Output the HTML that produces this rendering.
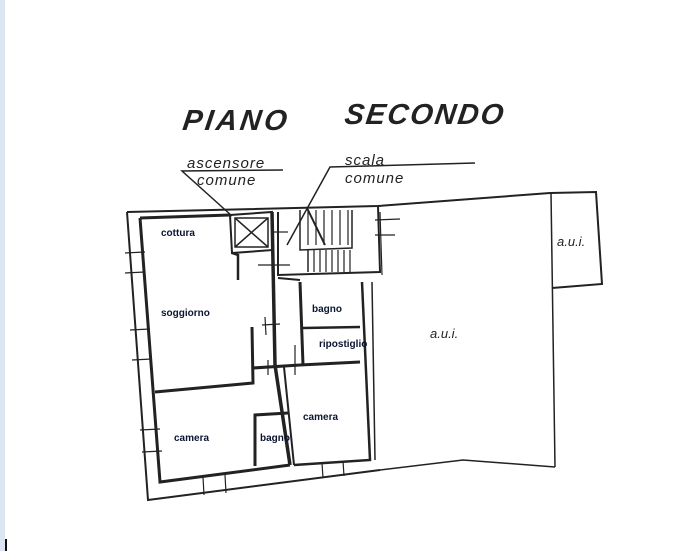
<!DOCTYPE html>
<html><head><meta charset="utf-8"><style>
html,body{margin:0;padding:0;background:#fff;width:676px;height:551px;overflow:hidden}
svg{display:block}
.h{font-family:"Liberation Sans",sans-serif;font-style:italic;fill:#222}
.l{font-family:"Liberation Sans",sans-serif;font-weight:bold;font-size:10px;fill:#0a1530}
</style></head><body>
<svg width="676" height="551" viewBox="0 0 676 551">
<rect x="0" y="0" width="5" height="551" fill="#dce6f2"/>
<rect x="5" y="539" width="2" height="12" fill="#111"/>
<text class="h" x="183" y="130" font-size="29" font-weight="bold" letter-spacing="3" transform="skewX(-8) translate(17,0)">PIANO</text>
<text class="h" x="344" y="124" font-size="29" font-weight="bold" letter-spacing="2" transform="skewX(-8) translate(17,0)">SECONDO</text>
<text class="h" x="187" y="168" font-size="15" letter-spacing="1">ascensore</text>
<text class="h" x="197" y="185" font-size="15" letter-spacing="1">comune</text>
<text class="h" x="345" y="165" font-size="15" letter-spacing="1">scala</text>
<text class="h" x="345" y="183" font-size="15" letter-spacing="1">comune</text>
<g fill="none" stroke="#222" stroke-width="1.5">
<polyline points="232,216 182,171 283,170"/>
<polyline points="287,245 330,167 475,163"/>
<line x1="307" y1="208" x2="325" y2="245" stroke-width="2"/>
<!-- outer left wall -->
<polyline points="127,212 378,206 550,193 596,192 602,284 552,288" stroke-width="2"/>
<line x1="551" y1="193" x2="555" y2="467" />
<polyline points="380,470 463,460 555,467" />
<polyline points="127,212 148,500 380,470" stroke-width="2"/>
<polyline points="140,218 230,215" stroke-width="3"/>
<polyline points="140,218 160,482 290,465" stroke-width="3"/>
<!-- lift -->
<polygon points="230,215 272,212 273,250 232,253" stroke-width="2"/>
<rect x="235" y="218" width="33" height="29"/>
<line x1="235" y1="218" x2="268" y2="247"/><line x1="268" y1="218" x2="235" y2="247"/>
<polyline points="232,253 238,255 238,280" stroke-width="2.5"/>
<!-- central walls -->
<polyline points="272,212 275,365 290,465" stroke-width="3.5"/>
<polyline points="252,327 253,383 155,392" stroke-width="3"/>
<line x1="253" y1="368" x2="300" y2="365" stroke-width="3"/>
<polyline points="255,466 255,415 288,413" stroke-width="3"/>
<line x1="284" y1="367" x2="294" y2="465" stroke-width="2"/>
<polyline points="294,465 370,460 362,282" stroke-width="2.5"/>
<line x1="300" y1="365" x2="360" y2="362" stroke-width="3"/>
<line x1="300" y1="282" x2="303" y2="365" stroke-width="3"/>
<line x1="303" y1="328" x2="360" y2="327" stroke-width="2.5"/>
<line x1="278" y1="278" x2="300" y2="280" stroke-width="2"/>
<line x1="372" y1="282" x2="375" y2="460" stroke-width="1.5"/>
<!-- stair block -->
<polyline points="278,212 278,275 380,272 378,206" stroke-width="2"/>
<polyline points="300,210 300,250 352,248 352,210" />
<polyline points="308,250 308,272"/>
<g stroke-width="1.2">
<line x1="308" y1="210" x2="308" y2="245"/><line x1="316" y1="210" x2="316" y2="245"/><line x1="324" y1="210" x2="324" y2="245"/><line x1="332" y1="210" x2="332" y2="245"/><line x1="340" y1="210" x2="340" y2="245"/><line x1="348" y1="210" x2="348" y2="245"/>
<line x1="314" y1="250" x2="314" y2="272"/><line x1="320" y1="250" x2="320" y2="272"/><line x1="326" y1="250" x2="326" y2="272"/><line x1="332" y1="250" x2="332" y2="272"/><line x1="338" y1="250" x2="338" y2="272"/><line x1="344" y1="250" x2="344" y2="272"/><line x1="350" y1="250" x2="350" y2="272"/>
</g>
<!-- window / door ticks -->
<g stroke-width="1.2">
<line x1="125" y1="253" x2="145" y2="252"/><line x1="125" y1="273" x2="145" y2="272"/>
<line x1="130" y1="330" x2="150" y2="329"/><line x1="132" y1="360" x2="152" y2="359"/>
<line x1="140" y1="430" x2="160" y2="429"/><line x1="142" y1="452" x2="162" y2="451"/>
<line x1="203" y1="477" x2="204" y2="495"/><line x1="225" y1="475" x2="226" y2="493"/>
<line x1="322" y1="463" x2="323" y2="478"/><line x1="343" y1="461" x2="344" y2="476"/>
<line x1="380" y1="212" x2="382" y2="275"/><line x1="375" y1="220" x2="400" y2="219"/><line x1="375" y1="235" x2="395" y2="235"/>
<line x1="262" y1="325" x2="280" y2="324"/><line x1="265" y1="317" x2="266" y2="335"/>
<line x1="268" y1="360" x2="268" y2="375"/><line x1="295" y1="345" x2="295" y2="375"/>
<line x1="273" y1="232" x2="288" y2="232"/><line x1="258" y1="265" x2="290" y2="265"/>
</g>
</g>
<text class="l" x="161" y="236">cottura</text>
<text class="l" x="161" y="316">soggiorno</text>
<text class="l" x="312" y="312">bagno</text>
<text class="l" x="319" y="347">ripostiglio</text>
<text class="l" x="303" y="420">camera</text>
<text class="l" x="174" y="441">camera</text>
<text class="l" x="260" y="441">bagno</text>
<text class="h" x="430" y="338" font-size="13">a.u.i.</text>
<text class="h" x="557" y="246" font-size="13">a.u.i.</text>
</svg>
</body></html>
